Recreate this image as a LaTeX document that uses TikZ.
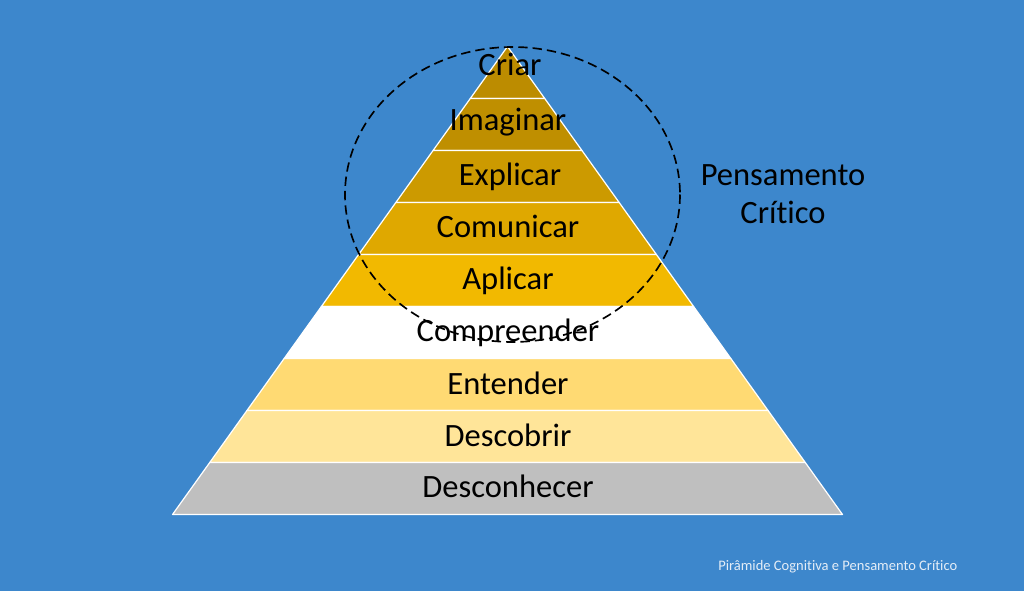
\documentclass[tikz,border=0pt]{standalone}
\usepackage{fontspec}
\setmainfont{Carlito}[Ligatures=NoCommon]
\definecolor{bgblue}{HTML}{3D87CC}
\definecolor{lA}{HTML}{BC8C00}
\definecolor{lB}{HTML}{BF8F00}
\definecolor{lC}{HTML}{CC9A00}
\definecolor{lD}{HTML}{DFA800}
\definecolor{lE}{HTML}{F2B900}
\definecolor{lF}{HTML}{FFFFFF}
\definecolor{lG}{HTML}{FFDA73}
\definecolor{lH}{HTML}{FFE599}
\definecolor{lI}{HTML}{BFBFBF}
\definecolor{foot}{HTML}{E4EDF7}
\begin{document}
\begin{tikzpicture}[x=0.75pt,y=-0.75pt,
  layerbox/.style={draw=white,line width=0.9pt,line join=round},
  layerlabel/.style={anchor=base,inner sep=0pt,font=\fontsize{24.4}{29.2}\selectfont,text=black},
  sidelabel/.style={anchor=north,inner sep=0pt,align=center,font=\fontsize{24.4}{28.8}\selectfont,text=black},
  footlabel/.style={anchor=base west,inner sep=0pt,font=\fontsize{10.9}{13}\selectfont,text=foot},
  zone/.style={draw=black,line width=1.25pt,dash pattern=on 7pt off 3.8pt}]
\fill[bgblue] (0,0) rectangle (1024,591);
\useasboundingbox (0,0) rectangle (1024,591);
\foreach \i/\col in {0/lA,1/lB,2/lC,3/lD,4/lE,5/lF,6/lG,7/lH,8/lI}{
  \pgfmathsetmacro\ya{46.5+52*\i}
  \pgfmathsetmacro\yb{46.5+52*(\i+1)}
  \pgfmathsetmacro\wa{37.22*\i}
  \pgfmathsetmacro\wb{37.22*(\i+1)}
  \filldraw[layerbox,fill=\col] (507.5-\wa,\ya) -- (507.5+\wa,\ya) -- (507.5+\wb,\yb) -- (507.5-\wb,\yb) -- cycle;
}
\node[layerlabel] (criar) at (510,76) {Criar};
\node[layerlabel] (imaginar) at (508,131) {Imaginar};
\node[layerlabel] (explicar) at (510,186) {Explicar};
\node[layerlabel] (comunicar) at (508,238) {Comunicar};
\node[layerlabel] (aplicar) at (508,290) {Aplicar};
\node[layerlabel] (compreender) at (508,342) {Compreender};
\node[layerlabel] (entender) at (508,394) {Entender};
\node[layerlabel] (descobrir) at (508,446) {Descobrir};
\node[layerlabel] (desconhecer) at (508,497.5) {Desconhecer};
\node[sidelabel] (pensamento) at (783,164) {Pensamento\\Crítico};
\coordinate (zonecenter) at (512.5,194.5);
\draw[zone] (zonecenter) ellipse [x radius=167.5, y radius=147.5];
\node[footlabel] (rodape) at (718,570) {Pirâmide Cognitiva e Pensamento Crítico};
\end{tikzpicture}
\end{document}
